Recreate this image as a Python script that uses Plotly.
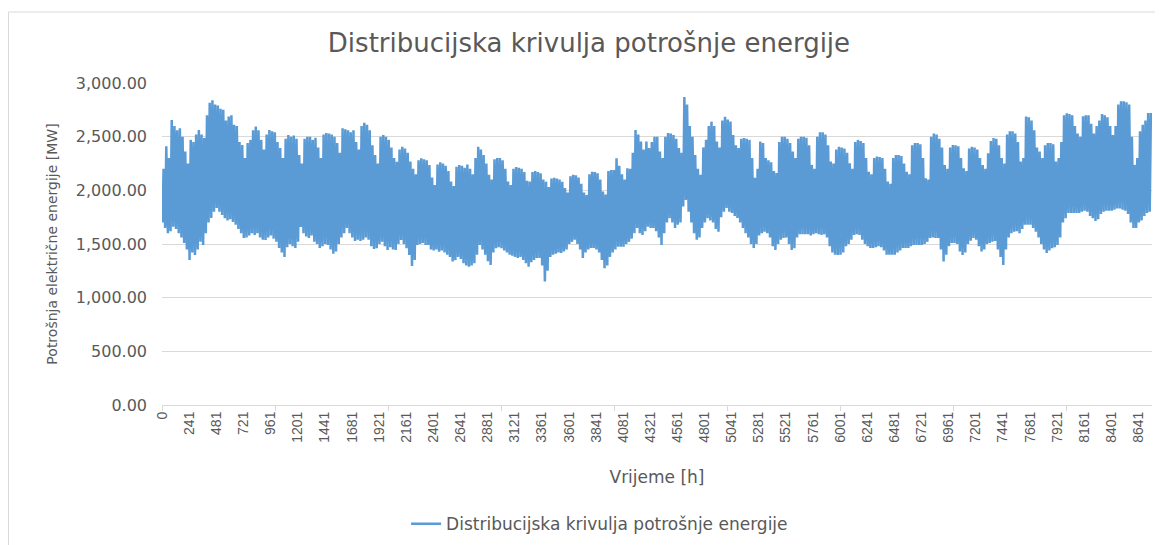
import plotly.graph_objects as go

# dnevni minimum i maksimum potrosnje [MW], ocitano sa slike (7 dana po retku)
day_low = [
    1700, 1650, 1600, 1620, 1660, 1640, 1600,
    1560, 1510, 1450, 1351, 1420, 1398, 1450,
    1520, 1491, 1600, 1700, 1743, 1800, 1836,
    1800, 1771, 1740, 1720, 1730, 1706, 1680,
    1640, 1600, 1556, 1560, 1580, 1600, 1584,
    1600, 1560, 1540, 1538, 1560, 1580, 1550,
    1520, 1463, 1420, 1379, 1470, 1500, 1480,
    1463, 1520, 1659, 1600, 1570, 1556, 1580,
    1520, 1500, 1463, 1480, 1500, 1491, 1450,
    1410, 1430, 1500, 1560, 1600, 1650, 1600,
    1560, 1528, 1540, 1528, 1540, 1560, 1540,
    1480, 1454, 1460, 1500, 1520, 1480, 1445,
    1470, 1450, 1445, 1500, 1538, 1500, 1460,
    1398, 1295, 1350, 1491, 1500, 1510, 1491,
    1491, 1450, 1440, 1450, 1429, 1440, 1420,
    1400, 1380, 1336, 1350, 1380, 1360, 1320,
    1300, 1289, 1300, 1320, 1400, 1491, 1450,
    1400, 1340, 1305, 1420, 1460, 1470, 1460,
    1440, 1420, 1400, 1390, 1380, 1370, 1380,
    1350, 1320, 1289, 1330, 1350, 1370, 1370,
    1300, 1150, 1250, 1380, 1400, 1410, 1420,
    1417, 1430, 1450, 1500, 1520, 1540, 1500,
    1450, 1370, 1420, 1450, 1463, 1463, 1450,
    1420, 1350, 1274, 1300, 1380, 1420, 1450,
    1475, 1475, 1475, 1500, 1520, 1550, 1600,
    1650, 1600, 1584, 1620, 1660, 1650, 1650,
    1620, 1560, 1491, 1600, 1700, 1740, 1700,
    1650, 1680, 1700, 1850, 1910, 1800, 1700,
    1600, 1540, 1560, 1650, 1700, 1740, 1720,
    1700, 1640, 1615, 1750, 1800, 1836, 1800,
    1790, 1760, 1743, 1700, 1650, 1600, 1560,
    1500, 1463, 1500, 1580, 1600, 1615, 1600,
    1560, 1480, 1445, 1500, 1540, 1556, 1560,
    1500, 1445, 1460, 1560, 1590, 1590, 1590,
    1590, 1580, 1590, 1600, 1590, 1584, 1590,
    1560, 1480, 1420, 1400, 1398, 1400, 1420,
    1480, 1500, 1540, 1584, 1590, 1584, 1540,
    1500, 1480, 1463, 1463, 1470, 1480, 1470,
    1440, 1400, 1400, 1400, 1400, 1420, 1440,
    1463, 1463, 1463, 1480, 1491, 1491, 1491,
    1491, 1500, 1520, 1556, 1560, 1556, 1556,
    1450, 1336, 1400, 1480, 1510, 1510, 1500,
    1430, 1398, 1420, 1500, 1530, 1556, 1540,
    1480, 1430, 1450, 1500, 1510, 1520, 1528,
    1450, 1380, 1305, 1450, 1560, 1600, 1615,
    1620, 1600, 1640, 1680, 1680, 1680, 1650,
    1615, 1560, 1500, 1450, 1417, 1440, 1460,
    1470, 1491, 1560, 1700, 1740, 1790, 1790,
    1790, 1790, 1790, 1800, 1810, 1800, 1760,
    1740, 1715, 1730, 1780, 1800, 1810, 1810,
    1810, 1820, 1830, 1830, 1820, 1810, 1780,
    1700, 1650, 1650, 1700, 1720, 1760, 1790,
    1800,
]
day_peak = [
    2200, 2410, 2300, 2656, 2600, 2560, 2578,
    2500, 2361, 2250, 2470, 2450, 2520, 2563,
    2520, 2488, 2700, 2815, 2840, 2800, 2790,
    2760, 2750, 2650, 2687, 2700, 2610, 2600,
    2450, 2423, 2300, 2440, 2470, 2560, 2594,
    2560, 2470, 2380, 2520, 2563, 2550, 2540,
    2450, 2395, 2300, 2480, 2516, 2500, 2510,
    2480, 2330, 2250, 2480, 2500, 2500, 2470,
    2490, 2400, 2300, 2520, 2535, 2530, 2520,
    2500, 2440, 2350, 2578, 2570, 2560, 2540,
    2560, 2450, 2380, 2600, 2630, 2610, 2560,
    2420, 2330, 2250, 2500, 2516, 2500, 2470,
    2400, 2300, 2265, 2380, 2407, 2390, 2350,
    2268, 2200, 2150, 2280, 2299, 2290, 2280,
    2237, 2120, 2050, 2240, 2262, 2250, 2230,
    2180, 2081, 2040, 2220, 2237, 2230, 2210,
    2240, 2200, 2150, 2300, 2407, 2380, 2330,
    2250, 2144, 2100, 2290, 2302, 2300, 2280,
    2200, 2081, 2050, 2200, 2218, 2210, 2200,
    2170, 2090, 2081, 2170, 2181, 2170, 2160,
    2100, 2081, 2030, 2110, 2116, 2110, 2100,
    2080, 2022, 1980, 2130, 2144, 2140, 2120,
    2060, 1980, 1957, 2150, 2174, 2170, 2160,
    2100, 1988, 1960, 2180, 2190, 2190, 2299,
    2230, 2150, 2100, 2206, 2200, 2350, 2563,
    2520, 2454, 2380, 2454, 2395, 2450, 2500,
    2500, 2361, 2300, 2500, 2535, 2530, 2516,
    2480, 2395, 2350, 2870, 2800, 2600, 2500,
    2330, 2200, 2144, 2400, 2470, 2600, 2640,
    2600, 2454, 2400, 2650, 2685, 2660, 2640,
    2516, 2420, 2395, 2480, 2488, 2480, 2470,
    2300, 2116, 2200, 2454, 2440, 2300, 2280,
    2262, 2180, 2162, 2450, 2500, 2500, 2480,
    2440, 2361, 2300, 2480, 2500, 2500, 2490,
    2420, 2237, 2200, 2500, 2540, 2540, 2520,
    2420, 2268, 2250, 2380, 2405, 2400, 2390,
    2350, 2253, 2200, 2450, 2470, 2460, 2440,
    2300, 2174, 2150, 2300, 2314, 2310, 2300,
    2200, 2081, 2060, 2300, 2330, 2330, 2320,
    2250, 2174, 2150, 2420, 2441, 2440, 2430,
    2300, 2112, 2100, 2500, 2530, 2520, 2480,
    2400, 2237, 2200, 2400, 2423, 2420, 2410,
    2300, 2206, 2180, 2390, 2407, 2400, 2380,
    2300, 2237, 2200, 2345, 2460, 2488, 2480,
    2420, 2300, 2250, 2520, 2550, 2550, 2530,
    2450, 2268, 2300, 2687, 2680, 2650, 2560,
    2400, 2361, 2300, 2420, 2441, 2440, 2430,
    2268, 2300, 2450, 2700, 2718, 2710, 2700,
    2600, 2530, 2500, 2690, 2700, 2700, 2620,
    2530, 2600, 2650, 2710, 2700, 2680, 2600,
    2516, 2600, 2800, 2830, 2830, 2820, 2800,
    2500, 2237, 2300, 2550, 2610, 2650, 2720,
    2720,
]

# satni raspored: nocni minimum oko 4h, dnevni maksimum oko 14h
hours = []
load = []
for d, (lo, hi) in enumerate(zip(day_low, day_peak)):
    hours += [24 * d + 4, 24 * d + 14]
    load += [lo, hi]

x_ticks = [0, 241, 481, 721, 961, 1201, 1441, 1681, 1921, 2161, 2401, 2641,
           2881, 3121, 3361, 3601, 3841, 4081, 4321, 4561, 4801, 5041, 5281,
           5521, 5761, 6001, 6241, 6481, 6721, 6961, 7201, 7441, 7681, 7921,
           8161, 8401, 8641]
y_ticks = [0, 500, 1000, 1500, 2000, 2500, 3000]

grey = '#595959'
font = 'DejaVu Sans'

fig = go.Figure(
    data=go.Scatter(
        x=hours,
        y=load,
        mode='lines',
        name='Distribucijska krivulja potrošnje energije',
        line=dict(color='#5b9bd5', width=2.5),
    )
)

# stranica ima 8px margine, pa je figura za toliko manja
fig.update_layout(
    width=1155,
    height=537,
    paper_bgcolor='white',
    plot_bgcolor='white',
    margin=dict(l=154, r=11, t=75, b=140, autoexpand=False),
    font=dict(family=font, color=grey),
    title=dict(
        text='Distribucijska krivulja potrošnje energije',
        x=0.503, xanchor='center', y=0.935, yanchor='middle',
        font=dict(size=26, color=grey),
    ),
    showlegend=True,
    legend=dict(
        orientation='h', x=0.442, xanchor='center', y=-0.37, yanchor='middle',
        font=dict(size=17, color=grey),
    ),
    shapes=[dict(
        type='rect', xref='paper', yref='paper',
        x0=(0.5 - 154) / 990, x1=(1170 - 154) / 990,
        y0=(397 - 560) / 322, y1=(397 - 4) / 322,
        line=dict(color='#d9d9d9', width=1),
    )],
)

fig.update_xaxes(
    range=[0, 8760],
    automargin=False,
    tickmode='array',
    tickvals=x_ticks,
    ticktext=[str(t) for t in x_ticks],
    tickangle=-90,
    tickfont=dict(family='Liberation Sans, Arial, sans-serif', size=14, color=grey),
    ticks='',
    showgrid=False,
    showline=True,
    linecolor='#d9d9d9',
    linewidth=1,
    zeroline=False,
    minor=dict(ticks='outside', tick0=0, dtick=1000, ticklen=5, tickcolor='#d9d9d9', showgrid=False),
    title=dict(text='Vrijeme [h]', font=dict(size=17, color=grey), standoff=29),
)

fig.update_yaxes(
    range=[0, 3000],
    automargin=False,
    tickmode='array',
    tickvals=y_ticks,
    tickformat=',.2f',
    tickfont=dict(size=16, color=grey),
    showgrid=True,
    gridcolor='#d9d9d9',
    zeroline=False,
    ticks='',
    ticklabelstandoff=14,
    title=dict(text='Potrošnja električne energije [MW]', font=dict(size=14, color=grey), standoff=14),
)

fig.write_html('out.html')
